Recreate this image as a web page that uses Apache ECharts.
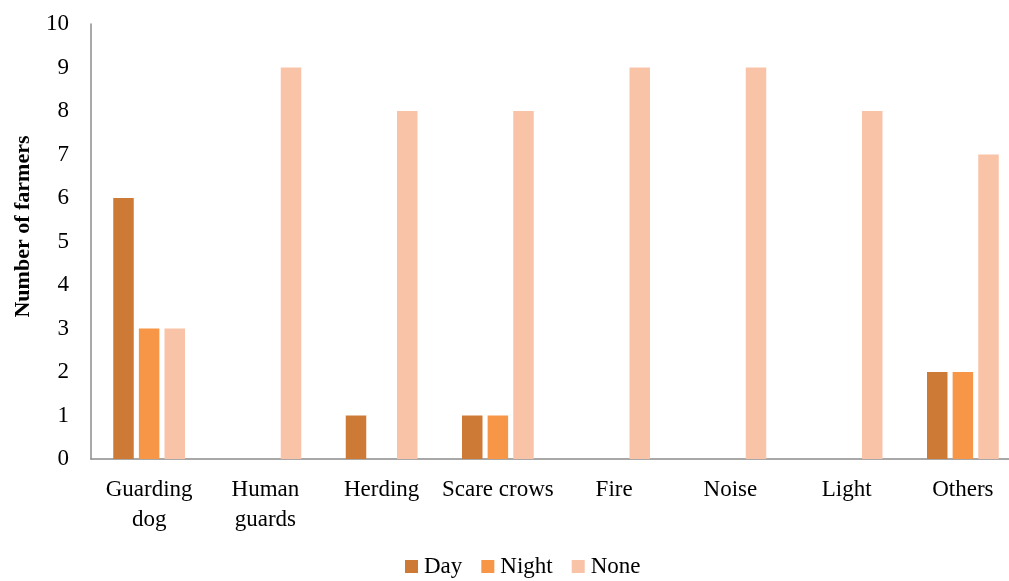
<!DOCTYPE html>
<html>
<head>
<meta charset="utf-8">
<script src="https://cdn.jsdelivr.net/npm/echarts@6/dist/echarts.min.js"></script>
<style>
html,body{margin:0;padding:0;background:#fff;}
#chart{width:1009px;height:581px;}
</style>
</head>
<body>
<div id="chart"></div>
<script>
const categories = ["Guarding\ndog", "Human\nguards", "Herding", "Scare crows", "Fire", "Noise", "Light", "Others"];
const dayValues = [6, 0, 1, 1, 0, 0, 0, 2];
const nightValues = [3, 0, 0, 1, 0, 0, 0, 2];
const noneValues = [3, 9, 8, 8, 9, 9, 8, 7];
const seriesNames = ["Day", "Night", "None"];
const yTicks = [0, 10, 1];

const FONT = '"Liberation Serif", "DejaVu Serif", serif';
const chart = echarts.init(document.getElementById('chart'), null, {renderer: 'canvas'});
const colors = ['#CD7A37', '#F79646', '#F9C3A7'];
function mk(name, data, i) {
  return {
    name: name, type: 'bar', data: data,
    barWidth: 20.5, barGap: '25%',
    itemStyle: {color: colors[i]},
    emphasis: {disabled: true}
  };
}
chart.setOption({
  animation: false,
  textStyle: {fontFamily: FONT},
  grid: {left: 91, right: -12, top: 24, bottom: 122, containLabel: false, outerBoundsMode: 'none'},
  legend: {
    bottom: -2, left: 400, itemWidth: 13, itemHeight: 13, itemGap: 19,
    icon: 'rect',
    textStyle: {fontFamily: FONT, fontSize: 23, color: '#000', padding: [0, 0, 0, 1]},
    data: seriesNames
  },
  xAxis: {
    type: 'category', data: categories,
    axisLine: {lineStyle: {color: '#8c8c8c', width: 1.5}},
    axisTick: {show: false},
    axisLabel: {fontFamily: FONT, fontSize: 23, color: '#000', margin: 16, lineHeight: 30, interval: 0}
  },
  yAxis: {
    type: 'value', min: yTicks[0], max: yTicks[1], interval: yTicks[2],
    name: 'Number of farmers', nameLocation: 'middle', nameGap: 57,
    nameTextStyle: {fontFamily: FONT, fontSize: 22, fontWeight: 'bold', color: '#000', padding: [0, 0, 0, 30]},
    axisLine: {show: true, lineStyle: {color: '#8c8c8c', width: 1.5}},
    axisTick: {show: false},
    splitLine: {show: false},
    axisLabel: {fontFamily: FONT, fontSize: 23, color: '#000', margin: 22}
  },
  series: [mk(seriesNames[0], dayValues, 0), mk(seriesNames[1], nightValues, 1), mk(seriesNames[2], noneValues, 2)]
});
</script>
</body>
</html>
